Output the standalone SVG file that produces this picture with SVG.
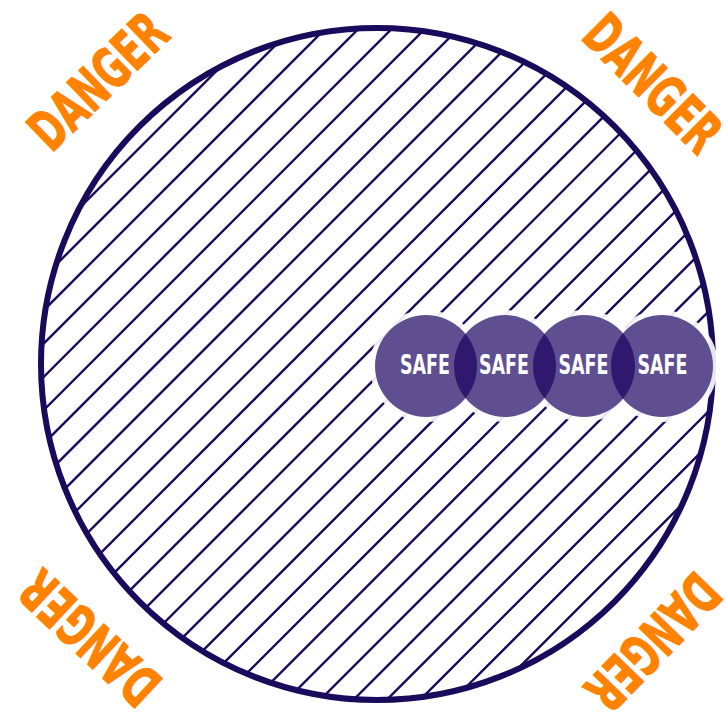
<svg xmlns="http://www.w3.org/2000/svg" width="726" height="717" viewBox="0 0 726 717">
<style>
.hatch{stroke:#1a0a5c;stroke-width:2.4;fill:none}
.ring{fill:none;stroke:#1a0a5c;stroke-width:6}
.halo{fill:#fff;opacity:0.9}
.base{fill:#fff}
.safe{fill:#19005e;fill-opacity:0.69}
.safe-t{font-family:"Liberation Sans Narrow","DejaVu Sans Condensed","Liberation Sans",sans-serif;font-weight:bold;font-size:27px;fill:#fff;text-anchor:middle}
.danger{font-family:"Liberation Sans Narrow","DejaVu Sans Condensed","Liberation Sans",sans-serif;font-weight:bold;font-size:56px;fill:#ff8200;text-anchor:middle;stroke:#ff8200;stroke-width:1}
</style>
<defs>
<clipPath id="inner"><circle cx="377" cy="364" r="334"/></clipPath>
</defs>
<rect width="726" height="717" fill="#fff"/>
<g id="danger-zone">
<g clip-path="url(#inner)">
<path class="hatch" d="M287.4 0L-432.6 720M320.7 0L-399.3 720M354 0L-366 720M387.3 0L-332.7 720M420.6 0L-299.4 720M453.9 0L-266.1 720M487.2 0L-232.8 720M520.5 0L-199.5 720M553.8 0L-166.2 720M587.1 0L-132.9 720M620.4 0L-99.6 720M653.7 0L-66.3 720M687 0L-33 720M720.3 0L0.3 720M753.6 0L33.6 720M786.9 0L66.9 720M820.2 0L100.2 720M853.5 0L133.5 720M886.8 0L166.8 720M920.1 0L200.1 720M953.4 0L233.4 720M986.7 0L266.7 720M1020 0L300 720M1053.3 0L333.3 720M1086.6 0L366.6 720M1119.9 0L399.9 720M1153.2 0L433.2 720M1186.5 0L466.5 720M1219.8 0L499.8 720"/>
</g>
<circle class="ring" cx="377" cy="364" r="336"/>
</g>
<g id="halos">
<circle class="halo" cx="426" cy="366" r="56"/>
<circle class="halo" cx="505" cy="366" r="56"/>
<circle class="halo" cx="584" cy="366" r="56"/>
<circle class="halo" cx="662" cy="366" r="56"/>
<circle class="base" cx="426" cy="366" r="51"/>
<circle class="base" cx="505" cy="366" r="51"/>
<circle class="base" cx="584" cy="366" r="51"/>
<circle class="base" cx="662" cy="366" r="51"/>
</g>
<g id="safe1"><circle class="safe" cx="426" cy="366" r="51"/><text class="safe-t" x="425" y="374" textLength="50" lengthAdjust="spacingAndGlyphs">SAFE</text></g>
<g id="safe2"><circle class="safe" cx="505" cy="366" r="51"/><text class="safe-t" x="504" y="374" textLength="50" lengthAdjust="spacingAndGlyphs">SAFE</text></g>
<g id="safe3"><circle class="safe" cx="584" cy="366" r="51"/><text class="safe-t" x="583.5" y="374" textLength="50" lengthAdjust="spacingAndGlyphs">SAFE</text></g>
<g id="safe4"><circle class="safe" cx="662" cy="366" r="51"/><text class="safe-t" x="662.5" y="374" textLength="50" lengthAdjust="spacingAndGlyphs">SAFE</text></g>
<g id="danger-tl"><text class="danger" transform="translate(98,81) rotate(-44)" x="0" y="20" textLength="168" lengthAdjust="spacingAndGlyphs">DANGER</text></g>
<g id="danger-tr"><text class="danger" transform="translate(653,83) rotate(45)" x="0" y="20" textLength="168" lengthAdjust="spacingAndGlyphs">DANGER</text></g>
<g id="danger-bl"><text class="danger" transform="translate(90,638) rotate(-137)" x="0" y="20" textLength="168" lengthAdjust="spacingAndGlyphs">DANGER</text></g>
<g id="danger-br"><text class="danger" transform="translate(653,642) rotate(134)" x="0" y="20" textLength="165" lengthAdjust="spacingAndGlyphs">DANGER</text></g>
</svg>
